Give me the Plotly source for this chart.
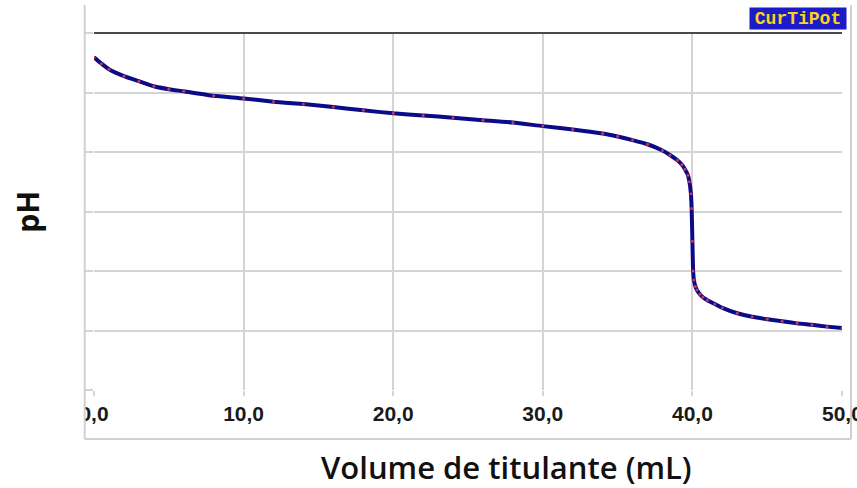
import plotly.graph_objects as go

# Data (volume of titrant in mL, pH)
volume_ml = [0, 0.5, 1.0, 2.0, 3.0, 4.0, 5.0, 6.0, 8.0, 10.0, 12.0, 14.0, 16.0, 18.0,
             20.0, 22.0, 24.0, 26.0, 28.0, 30.0, 32.0, 34.0, 35.0, 36.0, 37.0, 38.0,
             38.5, 39.0, 39.3, 39.5, 39.7, 39.8, 39.9, 39.95, 40.0, 40.05, 40.1, 40.2,
             40.3, 40.5, 40.7, 41.0, 41.5, 42.0, 43.0, 44.0, 45.0, 46.0, 47.0, 48.0,
             49.0, 50.0]
ph_values = [13.18, 12.97, 12.78, 12.55, 12.38, 12.21, 12.11, 12.04, 11.89, 11.80,
             11.69, 11.61, 11.51, 11.40, 11.30, 11.23, 11.15, 11.07, 10.99, 10.87,
             10.76, 10.62, 10.52, 10.40, 10.26, 10.05, 9.90, 9.72, 9.57, 9.42, 9.22,
             9.00, 8.60, 8.10, 7.00, 6.00, 5.70, 5.48, 5.36, 5.22, 5.12, 5.02, 4.89,
             4.76, 4.58, 4.46, 4.38, 4.31, 4.24, 4.19, 4.13, 4.08]

x_tick_vals = [0, 10, 20, 30, 40, 50]
x_tick_text = ["0,0", "10,0", "20,0", "30,0", "40,0", "50,0"]
y_tick_vals = [2, 4, 6, 8, 10, 12, 14]

x_title = "Volume de titulante (mL)"
y_title = "pH"
badge_text = "CurTiPot"

fig = go.Figure()
fig.add_trace(go.Scatter(
    x=volume_ml, y=ph_values, mode="lines+markers",
    line=dict(color="#0b0b8a", width=4, shape="spline", smoothing=0.5),
    marker=dict(size=3, color="#c8384f"),
    showlegend=False, hoverinfo="x+y",
))

grid_col = "#d4d4d4"
tick_font = dict(family="Liberation Sans", size=21, color="#1a1a1a", weight="bold")
# the last label sits past the figure edge; it is drawn as an annotation so that
# it does not push the right margin
shown_text = x_tick_text[:-1] + [""]
fig.update_xaxes(
    range=[0, 50], tickvals=x_tick_vals, ticktext=shown_text,
    showgrid=True, gridcolor=grid_col, gridwidth=2,
    ticks="outside", ticklen=5, tickcolor=grid_col, tickwidth=2,
    zeroline=False, showline=False, automargin=False,
    tickfont=tick_font,
)
fig.update_yaxes(
    range=[2, 14], tickvals=y_tick_vals, showticklabels=False,
    showgrid=True, gridcolor=grid_col, gridwidth=2,
    ticks="outside", ticklen=8, tickcolor=grid_col, tickwidth=2,
    zeroline=False, showline=False, automargin=False,
)

W, H = 857, 488
L, R, T, B = 94.3, 842.0, 33.0, 390.0


def px(xp):
    return (xp - L) / (R - L)


def py(yp):
    return (B - yp) / (B - T)


shapes = [
    # white mask clipping the leftmost tick label
    dict(type="rect", xref="paper", yref="paper", x0=px(-5), x1=px(85), y0=py(445), y1=py(396),
         fillcolor="white", line=dict(width=0), layer="above"),
    # dark top line
    dict(type="line", xref="paper", yref="paper", x0=0, x1=1, y0=1, y1=1,
         line=dict(color="#4a4a4a", width=2), layer="above"),
    # outer frame
    dict(type="line", xref="paper", yref="paper", x0=px(85), x1=px(85), y0=py(5), y1=py(439),
         line=dict(color="#d0d0d0", width=2), layer="above"),
    dict(type="line", xref="paper", yref="paper", x0=px(851), x1=px(851), y0=py(5), y1=py(439),
         line=dict(color="#d0d0d0", width=2), layer="above"),
    dict(type="line", xref="paper", yref="paper", x0=px(85), x1=px(851), y0=py(439), y1=py(439),
         line=dict(color="#d0d0d0", width=2), layer="above"),
]

annotations = [
    dict(text=x_tick_text[-1], xref="x", yref="paper", x=x_tick_vals[-1], y=py(413),
         xanchor="center", yanchor="middle", showarrow=False, font=tick_font),
    dict(text=x_title, xref="paper", yref="paper", x=px(507), y=py(467),
         xanchor="center", yanchor="middle", showarrow=False,
         font=dict(family="Open Sans", size=31, color="#111111", weight=600)),
    dict(text=y_title, xref="paper", yref="paper", x=px(27), y=py(212),
         xanchor="center", yanchor="middle", showarrow=False, textangle=-90,
         font=dict(family="Open Sans", size=30, color="#111111", weight="bold")),
    dict(text=badge_text, xref="paper", yref="paper", x=px(798.5), y=py(18.5),
         xanchor="center", yanchor="middle", showarrow=False,
         bgcolor="#1b1bc8", width=96, height=21, borderpad=0,
         font=dict(family="Liberation Mono", size=18, color="#ffd21a", weight="bold")),
]

fig.update_layout(
    width=W, height=H,
    margin=dict(l=L, r=W - R, t=T, b=H - B, autoexpand=False),
    paper_bgcolor="white", plot_bgcolor="white",
    shapes=shapes, annotations=annotations,
)

fig.write_html(
    "out.html",
    config={"displayModeBar": False},
    post_script="document.body.style.margin='0';document.body.style.overflow='hidden';",
)
